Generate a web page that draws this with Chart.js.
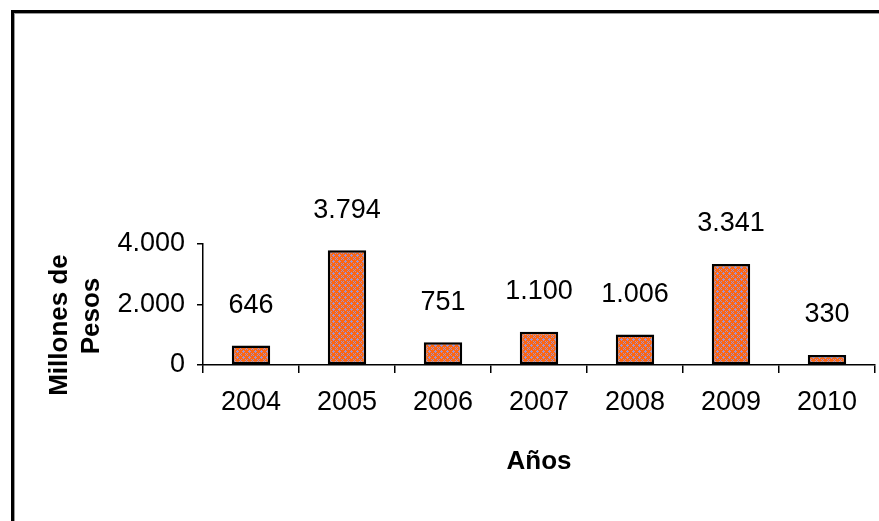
<!DOCTYPE html>
<html>
<head>
<meta charset="utf-8">
<script src="https://cdn.jsdelivr.net/npm/chart.js@4/dist/chart.umd.min.js"></script>
<style>
  html, body { margin: 0; padding: 0; background: #fff; overflow: hidden; }
  #wrap { position: relative; width: 879px; height: 521px; }
  #frame {
    position: absolute; left: 11px; top: 10px; width: 900px; height: 600px;
    border-left: 3px solid #000; border-top: 3px solid #000;
    box-shadow: inset 1px 1px 0 #999;
  }
  canvas { position: absolute; left: 0; top: 0; }
</style>
</head>
<body>
<div id="wrap">
  <div id="frame"></div>
  <canvas id="chart" width="879" height="521"></canvas>
</div>
<script>
const years = ["2004", "2005", "2006", "2007", "2008", "2009", "2010"];
const amounts = [646, 3794, 751, 1100, 1006, 3341, 330];
const yTicks = [0, 2000, 4000];

const FONT = '"Liberation Sans", Arial, sans-serif';

function fmt(v) {
  return String(v).replace(/\B(?=(\d{3})+(?!\d))/g, ".");
}

// orange fill with small lavender crosses, like the old Excel pattern
function makePattern() {
  const c = document.createElement("canvas");
  c.width = 6;
  c.height = 6;
  const g = c.getContext("2d");
  g.fillStyle = "#ff6610";
  g.fillRect(0, 0, 6, 6);
  g.fillStyle = "#a292cf";
  [[3, 2], [2, 3], [3, 3], [4, 3], [3, 4], [0, 0], [1, 1], [5, 5], [1, 5], [5, 1]].forEach(([x, y]) => g.fillRect(x, y, 1, 1));
  return g.createPattern(c, "repeat");
}

const extras = {
  id: "extras",
  afterDatasetsDraw(chart) {
    const ctx = chart.ctx;
    const meta = chart.getDatasetMeta(0);
    ctx.save();
    ctx.fillStyle = "#000";
    ctx.textAlign = "center";
    ctx.textBaseline = "middle";
    ctx.font = "27px " + FONT;
    meta.data.forEach((bar, i) => {
      ctx.fillText(fmt(amounts[i]), bar.x, bar.y - 40);
    });

    const area = chart.chartArea;
    ctx.font = "bold 26px " + FONT;
    ctx.fillText("Años", (area.left + area.right) / 2, 462);

    ctx.translate(60, 325);
    ctx.rotate(-Math.PI / 2);
    ctx.fillText("Millones de", 0, 0);
    ctx.rotate(Math.PI / 2);
    ctx.translate(32, -9);
    ctx.rotate(-Math.PI / 2);
    ctx.fillText("Pesos", 0, 0);
    ctx.restore();
  },
};

new Chart(document.getElementById("chart"), {
  type: "bar",
  data: {
    labels: years,
    datasets: [
      {
        data: amounts,
        backgroundColor: makePattern(),
        borderColor: "#000",
        borderWidth: 2.5,
        borderSkipped: false,
        barPercentage: 0.8,
        categoryPercentage: 0.5,
      },
    ],
  },
  options: {
    responsive: false,
    animation: false,
    layout: { padding: { top: 244, left: 0, right: 4, bottom: 96 } },
    plugins: { legend: { display: false }, tooltip: { enabled: false } },
    scales: {
      x: {
        afterFit(scale) { scale.height = 60; },
        grid: { display: true, drawOnChartArea: false, drawTicks: true, tickLength: 8, color: "#000", lineWidth: 1.5 },
        border: { display: true, color: "#000", width: 1.5 },
        ticks: { color: "#000", font: { family: FONT, size: 27 }, padding: 13, maxRotation: 0 },
      },
      y: {
        min: 0,
        max: 4000,
        afterFit(scale) { scale.width = 203; },
        afterBuildTicks(scale) { scale.ticks = yTicks.map((v) => ({ value: v })); },
        grid: { display: true, drawOnChartArea: false, drawTicks: true, tickLength: 6, color: "#000", lineWidth: 1.5 },
        border: { display: true, color: "#000", width: 1.5 },
        ticks: { color: "#000", font: { family: FONT, size: 27 }, padding: 12, callback: (v) => fmt(v) },
      },
    },
  },
  plugins: [extras],
});
</script>
</body>
</html>
